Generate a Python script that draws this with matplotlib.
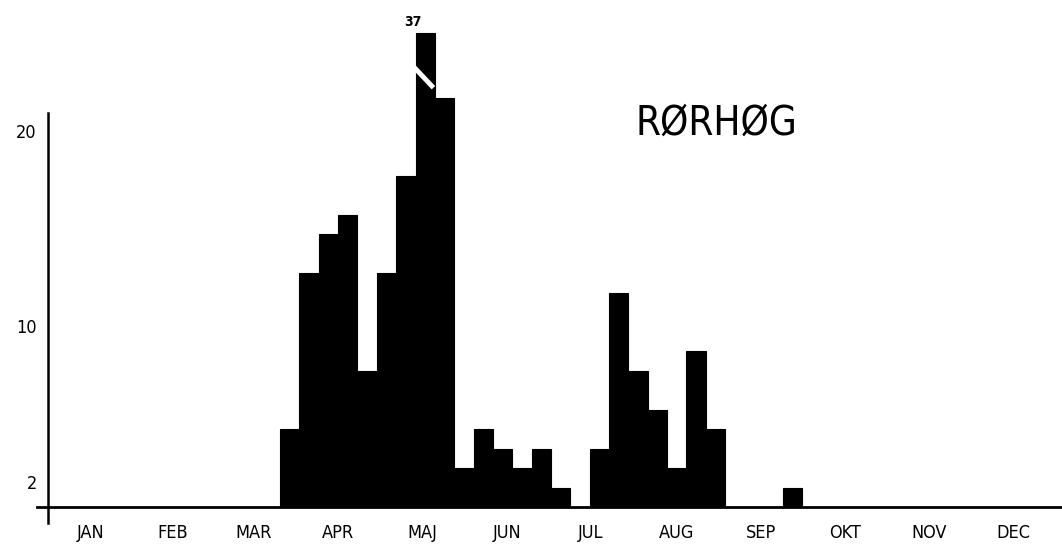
import matplotlib
matplotlib.use("Agg")
import matplotlib.pyplot as plt
import matplotlib.transforms as mtransforms
import numpy as np

# ---- data -------------------------------------------------------------
months = ["JAN", "FEB", "MAR", "APR", "MAJ", "JUN",
          "JUL", "AUG", "SEP", "OKT", "NOV", "DEC"]
month_days = [31, 28, 31, 30, 31, 30, 31, 31, 30, 31, 30, 31]
first_week = 12                      # index of first plotted week
weekly_counts = [4, 12, 14, 15, 7, 12, 17, 37, 21, 2, 4, 3, 2, 3, 1, 0,
                 3, 11, 7, 5, 2, 8, 4, 0, 0, 0, 1]
y_ticks = [2, 10, 20]
title = "RØRHØG"

# ---- display settings ---------------------------------------------------
clip_height = 24.3                   # broken (truncated) bar drawn this tall
W, H = 1062, 556
fig = plt.figure(figsize=(W / 100, H / 100), dpi=100)
ax = fig.add_axes([37 / W, 10 / H, 1025 / W, 546 / H])
ax.set_xlim(-4, 367)
ax.set_ylim(-2.0, 26.0)

weeks = np.arange(first_week, first_week + len(weekly_counts))
counts = np.array(weekly_counts, dtype=float)
shown = np.minimum(counts, clip_height)
lefts = weeks * 7
ax.bar(lefts, shown, width=7, align="edge", color="black",
       edgecolor="black", linewidth=0.8, zorder=3)

# broken bar: white slash + real value on top
for x0, v in zip(lefts, counts):
    if v > clip_height:
        ax.plot([x0 - 1.5, x0 + 6.5], [clip_height - 1.6, clip_height - 2.8],
                color="white", lw=3.5, zorder=4, solid_capstyle="butt")
        ax.text(x0 - 1.0, clip_height + 0.2, f"{int(v)}", ha="center",
                va="bottom", fontsize=10, fontweight="bold",
                family="DejaVu Sans", fontstretch="condensed", zorder=5)

# axes lines
for s in ["top", "right"]:
    ax.spines[s].set_visible(False)
ax.spines["left"].set_position(("data", 0))
ax.spines["left"].set_bounds(-0.8, 20.2)
ax.spines["left"].set_linewidth(1.8)
ax.spines["bottom"].set_position(("data", 0))
ax.spines["bottom"].set_linewidth(2.0)
ax.spines["bottom"].set_zorder(5)

# month ticks at month middles
edges = np.concatenate([[0], np.cumsum(month_days)])
mids = (edges[:-1] + edges[1:]) / 2
ax.set_xticks(mids)
ax.set_xticklabels(months, fontsize=13, family="DejaVu Sans",
                   fontstretch="condensed")
ax.tick_params(axis="x", length=0, pad=12)

ax.set_yticks(y_ticks)
ax.set_yticklabels([str(t) for t in y_ticks], fontsize=13,
                   family="DejaVu Sans", fontstretch="condensed")
ax.tick_params(axis="y", length=0, pad=8)
shift = mtransforms.ScaledTranslation(0, -14 / 100, fig.dpi_scale_trans)
for lab in ax.get_yticklabels():
    lab.set_transform(lab.get_transform() + shift)

fig.text(716 / W, 1 - 124 / H, title, ha="center", va="center",
         fontsize=29, family="DejaVu Sans", fontstretch="condensed",
         fontweight="light")

fig.savefig("out.png", dpi=100, facecolor="white")
